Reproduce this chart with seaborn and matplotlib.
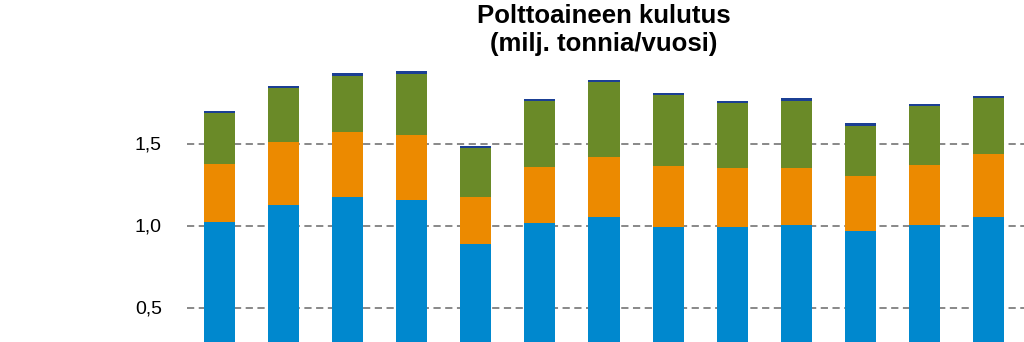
import matplotlib
matplotlib.use("Agg")
import matplotlib.pyplot as plt
import seaborn as sns
import pandas as pd
import numpy as np
from matplotlib.ticker import FuncFormatter

years = ["2000", "2001", "2002", "2003", "2004", "2005", "2006",
         "2007", "2008", "2009", "2010", "2011", "2012"]
blue_vals = [1.023, 1.125, 1.176, 1.155, 0.885, 1.013, 1.054, 0.993, 0.993, 1.001, 0.966, 1.001, 1.054]
orange_vals = [0.352, 0.384, 0.396, 0.395, 0.291, 0.346, 0.362, 0.372, 0.360, 0.352, 0.338, 0.370, 0.380]
green_vals = [0.309, 0.328, 0.340, 0.374, 0.298, 0.402, 0.457, 0.429, 0.396, 0.406, 0.303, 0.358, 0.345]
navy_vals = [0.016, 0.015, 0.018, 0.018, 0.013, 0.010, 0.012, 0.012, 0.012, 0.020, 0.020, 0.011, 0.010]

series_names = ["s1", "s2", "s3", "s4"]
series_vals = [blue_vals, orange_vals, green_vals, navy_vals]
colors = ["#0088CE", "#EC8A00", "#6A8A28", "#1B3F94"]
ytick_vals = [0.5, 1.0, 1.5]

sns.set_theme(style="white")
plt.rcParams["font.family"] = ["Liberation Sans", "DejaVu Sans"]
plt.rcParams["text.color"] = "black"

W, H = 1024, 342
fig = plt.figure(figsize=(W / 100, H / 100), dpi=100)

# axes geometry in pixels
x_left = 187.0
cat_step = 64.15
xlim = (-0.5, 12.6)
ax_w = (xlim[1] - xlim[0]) * cat_step
zero_y = 389.5
px_per_unit = 164.0
ylim = (0, 2.0)
ax_h = (ylim[1] - ylim[0]) * px_per_unit
ax = fig.add_axes([x_left / W, (H - zero_y) / H, ax_w / W, ax_h / H])

df = pd.DataFrame({"year": years})
bottom = np.zeros(len(years))
for name, vals, col in zip(series_names, series_vals, colors):
    df[name] = vals
    sns.barplot(data=df, x="year", y=name, color=col, width=0.485,
                bottom=bottom.copy(), ax=ax, saturation=1, zorder=3,
                linewidth=0)
    bottom = bottom + np.array(vals)

ax.set_xlim(*xlim)
ax.set_ylim(*ylim)
ax.set_yticks(ytick_vals)
ax.yaxis.set_major_formatter(FuncFormatter(lambda v, p: f"{v:.1f}".replace(".", ",")))
ax.tick_params(axis="y", labelsize=14, length=0, pad=18, colors="#000000")
ax.tick_params(axis="x", length=0, labelbottom=False)
ax.set_xlabel("")
ax.set_ylabel("")
ax.grid(axis="y", color="#7F7F7F", linestyle=(0, (4, 2.5)), linewidth=1.3, zorder=0)
ax.grid(axis="x", visible=False)
for s in ax.spines.values():
    s.set_visible(False)

fig.text(604 / W, 1 - 22.7 / H, "Polttoaineen kulutus", ha="center", va="baseline",
         fontsize=18.5, fontweight="bold", color="black")
fig.text(604 / W, 1 - 51.5 / H, "(milj. tonnia/vuosi)", ha="center", va="baseline",
         fontsize=18.5, fontweight="bold", color="black")

fig.savefig("out.png", dpi=100)
